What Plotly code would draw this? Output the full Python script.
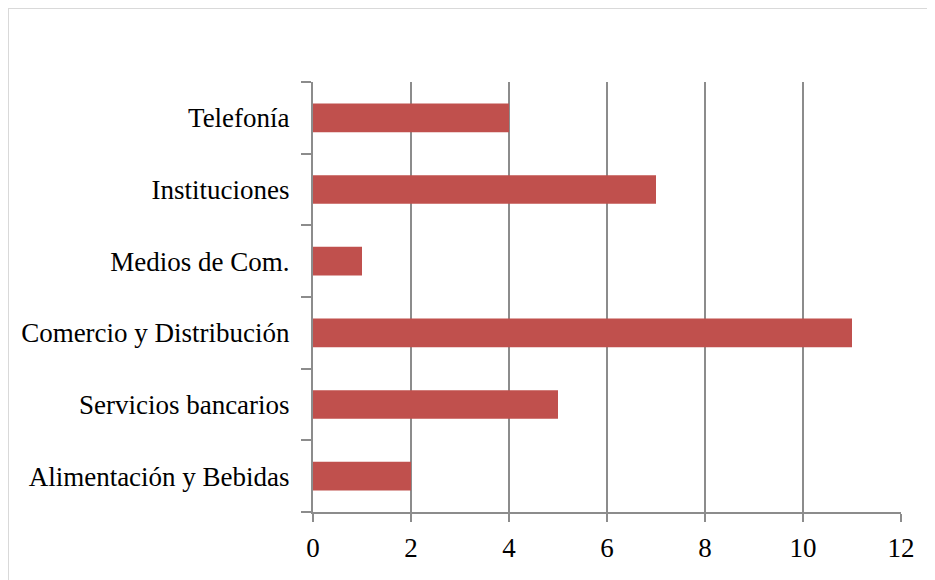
import plotly.graph_objects as go

categories = ["Alimentación y Bebidas", "Servicios bancarios", "Comercio y Distribución",
              "Medios de Com.", "Instituciones", "Telefonía"]
values = [2, 5, 11, 1, 7, 4]
x_ticks = [0, 2, 4, 6, 8, 10, 12]

# page body has an 8px margin; positions below are figure pixel coords
W, H = 935, 580
L, R, T, B = 305, 42, 74, 76
pw, ph = W - L - R, H - T - B

def px(x):
    return (x - L) / pw

def py(y):
    return (H - B - y) / ph

grid = "#8c8c8c"
font = "Liberation Serif, Times New Roman, serif"

fig = go.Figure(go.Bar(
    x=values, y=categories, orientation="h",
    marker=dict(color="#C0504D", line=dict(width=0)),
))

fig.update_layout(
    width=W, height=H,
    margin=dict(l=L, r=R, t=T, b=B),
    paper_bgcolor="white", plot_bgcolor="white",
    bargap=0.6, showlegend=False,
    font=dict(family=font, size=27, color="#000000"),
    xaxis=dict(range=[0, 12], tickvals=x_ticks, showgrid=True, gridcolor=grid, gridwidth=2,
               zeroline=False, showline=True, linecolor=grid, linewidth=2,
               ticks="outside", ticklen=8, tickwidth=2, tickcolor=grid,
               ticklabelstandoff=3,
               tickfont=dict(family=font, size=27), fixedrange=True),
    yaxis=dict(type="category", categoryorder="array", categoryarray=categories,
               showgrid=False, zeroline=False, showline=True, linecolor=grid, linewidth=2,
               ticks="outside", ticklen=10, tickwidth=2, tickcolor=grid,
               tickson="boundaries", ticklabelstandoff=16,
               tickfont=dict(family=font, size=27), fixedrange=True),
    shapes=[
        dict(type="line", xref="paper", yref="paper", x0=px(0), x1=px(0), y0=py(0), y1=py(600),
             line=dict(color="#d9d9d9", width=2), layer="below"),
        dict(type="line", xref="paper", yref="paper", x0=px(0), x1=px(960), y0=py(0), y1=py(0),
             line=dict(color="#d9d9d9", width=2), layer="below"),
    ],
)

fig.write_html("out.html")
